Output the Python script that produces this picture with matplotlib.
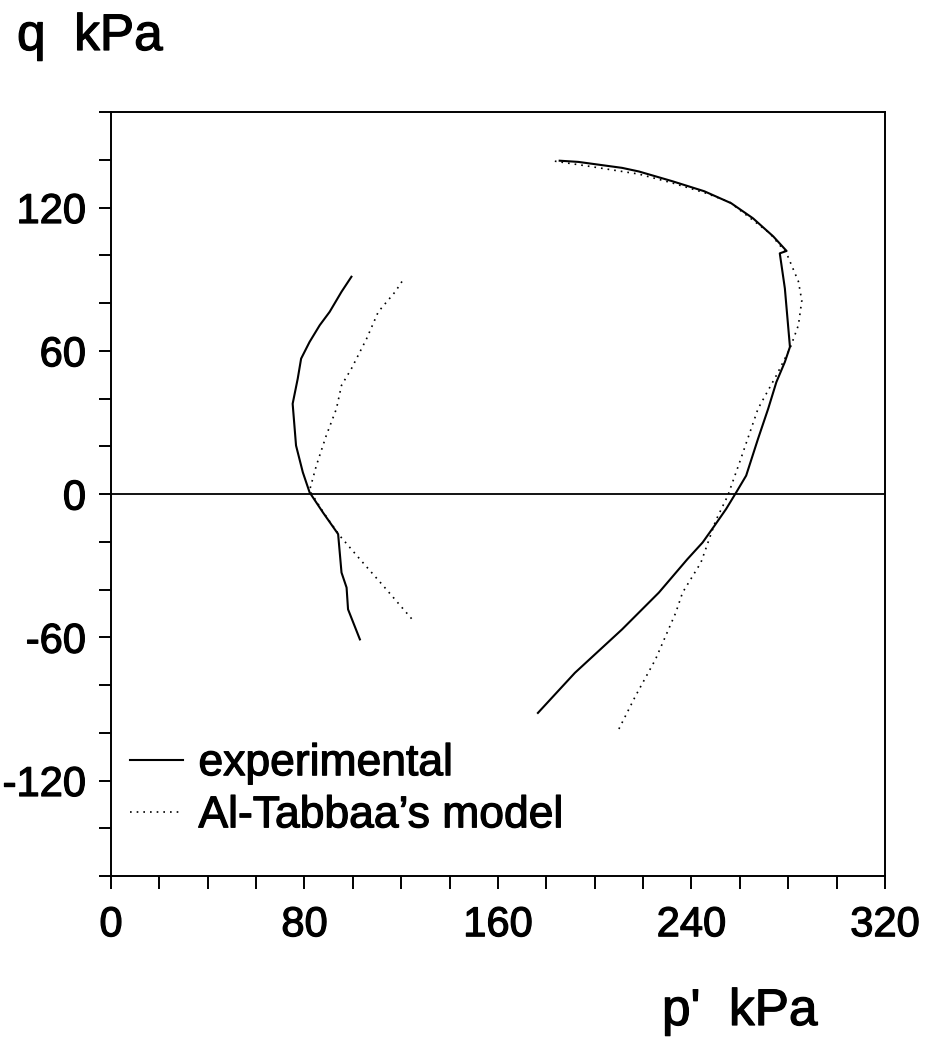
import matplotlib
matplotlib.use("Agg")
import matplotlib.pyplot as plt
import matplotlib.patheffects as pe
from matplotlib.ticker import MultipleLocator
from matplotlib.lines import Line2D

plt.rcParams['font.family'] = ['Liberation Sans', 'DejaVu Sans']
plt.rcParams['axes.unicode_minus'] = False

# Stress paths in p'-q space (kPa)
exp_left_p = [99.4, 95.3, 90.4, 86.3, 82.1, 78.6, 77.2, 75.1, 76.5, 79.3, 82.1,
              87.6, 93.9, 95.3, 97.4, 98.0, 102.9]
exp_left_q = [91.0, 84.7, 76.3, 70.7, 63.7, 56.7, 48.3, 37.8, 20.3, 9.1, 0.7,
              -7.7, -16.8, -32.9, -39.2, -48.3, -60.9]

mod_left_p = [120.3, 117.5, 110.5, 105.7, 99.4, 95.3, 93.2, 89.0, 84.9, 82.1,
              88.0, 94.6, 102.9, 112.6, 125.1]
mod_left_q = [89.0, 84.7, 76.3, 65.1, 52.5, 45.5, 35.7, 24.5, 11.9, 1.5,
              -8.0, -17.5, -27.3, -38.5, -53.2]

exp_right_p = [185.5, 193.2, 211.3, 218.2, 232.1, 245.3, 256.4, 265.4, 273.8, 279.3,
               276.5, 278.6, 280.7, 278.6, 275.1, 271.7, 267.5, 262.6, 258.5, 254.3,
               249.5, 244.6, 238.3, 226.5, 211.3, 191.8, 176.5]
exp_right_q = [139.6, 139.1, 136.6, 135.1, 131.0, 126.8, 121.8, 115.5, 107.9, 101.8,
               100.8, 86.1, 61.6, 55.3, 46.9, 35.7, 23.1, 7.7, 0.7, -6.3,
               -13.3, -20.3, -27.3, -41.3, -56.7, -74.9, -91.7]

mod_right_p = [183.5, 197.4, 218.2, 232.0, 246.0, 255.7, 272.4, 279.3, 284.2, 285.6,
               284.2, 280.7, 275.1, 267.5, 259.9, 255.0, 250.0, 243.9, 236.3, 233.5,
               225.1, 216.8, 209.2]
mod_right_q = [139.4, 137.3, 134.0, 130.3, 126.0, 122.3, 109.2, 100.8, 89.0, 81.0,
               70.7, 60.9, 49.7, 35.7, 13.3, -0.7, -11.2, -28.7, -41.3, -49.7,
               -69.3, -84.7, -100.0]

legend_labels = ["experimental", "Al-Tabbaa\u2019s model"]

# slightly heavier glyphs for all text
heavy = [pe.withStroke(linewidth=0.9, foreground='black')]

fig = plt.figure(figsize=(9.29, 10.39), dpi=100)
ax = fig.add_axes([111 / 929, 1 - 876 / 1039, (885 - 111) / 929, (876 - 112) / 1039])

solid = dict(color='black', lw=1.5, solid_joinstyle='round')
dotted = dict(color='black', lw=1.2, linestyle=(0, (1, 3)))

ax.plot(exp_left_p, exp_left_q, **solid)
ax.plot(exp_right_p, exp_right_q, **solid)
ax.plot(mod_left_p, mod_left_q, **dotted)
ax.plot(mod_right_p, mod_right_q, **dotted)
ax.axhline(0, color='black', lw=1.3)

ax.set_xlim(0, 320)
ax.set_ylim(-160, 160)
ax.xaxis.set_major_locator(MultipleLocator(80))
ax.xaxis.set_minor_locator(MultipleLocator(20))
ax.yaxis.set_major_locator(MultipleLocator(60))
ax.yaxis.set_minor_locator(MultipleLocator(20))
ax.tick_params(which='both', direction='out', length=9, width=1.4, top=False, right=False)
ax.tick_params(axis='x', which='major', labelsize=30, pad=12)
ax.tick_params(axis='y', which='major', labelsize=30, pad=9)
for s in ax.spines.values():
    s.set_linewidth(1.4)
for lab in ax.get_xticklabels() + ax.get_yticklabels():
    lab.set_path_effects(heavy)

handles = [Line2D([], [], **solid), Line2D([], [], **dotted)]
leg = ax.legend(handles, legend_labels, loc='lower left', bbox_to_anchor=(0.024, 0.052),
                frameon=False, fontsize=32, handlelength=1.2, handletextpad=0.35,
                borderaxespad=0, borderpad=0, labelspacing=0.25)
for t in leg.get_texts():
    t.set_path_effects(heavy)

fig.text(17 / 929, 1 - 50 / 1039, "q  kPa", fontsize=37, va='baseline', ha='left',
         path_effects=heavy)
fig.text(662 / 929, 1 - 1025 / 1039, "p'  kPa", fontsize=37, va='baseline', ha='left',
         path_effects=heavy)

fig.savefig("out.png", dpi=100)
